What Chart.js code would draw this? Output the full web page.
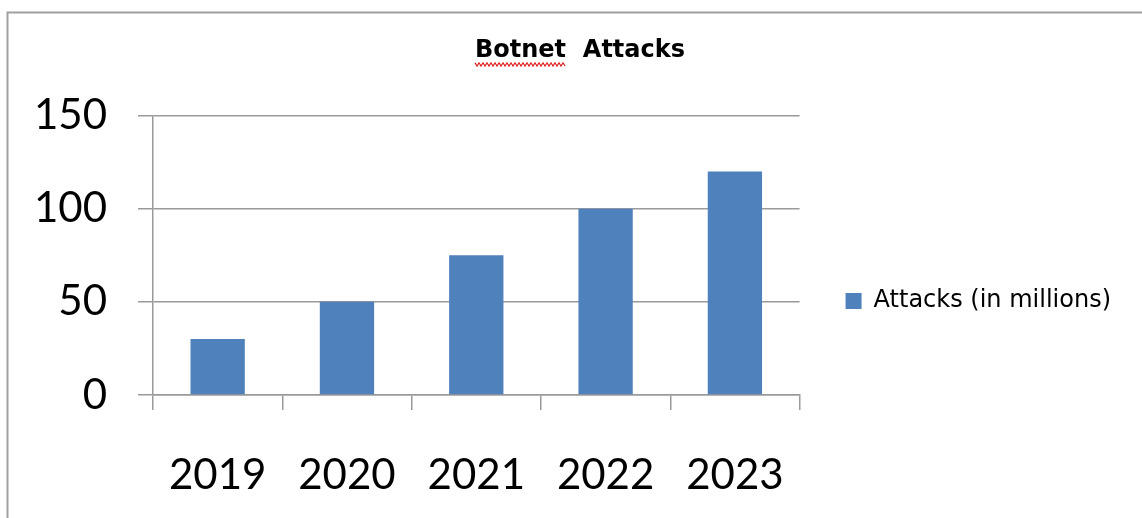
<!DOCTYPE html>
<html>
<head>
<meta charset="utf-8">
<script src="https://cdn.jsdelivr.net/npm/chart.js@4.4.0/dist/chart.umd.min.js"></script>
<style>
  html, body { margin: 0; padding: 0; background: #fff; }
</style>
</head>
<body>
<canvas id="chart" width="1142" height="518"></canvas>
<script>
// data
const years = ['2019', '2020', '2021', '2022', '2023'];
const attacks = [30, 50, 75, 100, 120];
const yTicks = [0, 50, 100, 150];
const seriesName = 'Attacks (in millions)';
const chartTitle = 'Botnet  Attacks';

const gray = '#9a9a9a';
const legendFont = { family: 'DejaVu Sans', size: 24 };
const legendPad = 46;
const legendBox = 16;

// work out right padding so the plot ends near x=800
const probe = document.createElement('canvas').getContext('2d');
probe.font = legendFont.size + 'px "' + legendFont.family + '"';
const legendTextW = probe.measureText(seriesName).width;
const padRight = Math.max(0, Math.round(1142 - 800 - (legendPad + legendBox + legendFont.size / 2 + legendTextW + 10)));

// outer frame (only top and left edge show) + spellcheck squiggle under "Botnet"
const framePlugin = {
  id: 'frame',
  afterLayout(chart) {
    // the title sits a bit right of the canvas centre in the original
    const tb = chart.titleBlock;
    const shift = 580 - (tb.left + tb.right) / 2;
    tb.left += shift;
    tb.right += shift;
  },
  beforeDraw(chart) {
    const ctx = chart.ctx;
    ctx.save();
    ctx.fillStyle = '#fff';
    ctx.fillRect(0, 0, chart.width, chart.height);
    ctx.strokeStyle = '#a0a0a0';
    ctx.lineWidth = 2;
    ctx.beginPath();
    ctx.moveTo(7.5, chart.height);
    ctx.lineTo(7.5, 12.5);
    ctx.lineTo(chart.width, 12.5);
    ctx.stroke();
    ctx.restore();
  },
  afterDraw(chart) {
    const tb = chart.titleBlock;
    const ctx = chart.ctx;
    const f = chart.options.plugins.title.font;
    ctx.save();
    ctx.font = 'bold ' + f.size + 'px "' + f.family + '"';
    const full = ctx.measureText(chartTitle).width;
    const word = ctx.measureText('Botnet').width;
    const x0 = (tb.left + tb.right) / 2 - full / 2;
    const yc = tb.top + tb.options.padding.top + f.size * 1.2 / 2 + 14;
    ctx.strokeStyle = '#e02020';
    ctx.lineWidth = 1.2;
    ctx.beginPath();
    let up = true;
    for (let x = x0; x <= x0 + word; x += 2) {
      const y = up ? yc - 1.6 : yc + 1.6;
      if (x === x0) ctx.moveTo(x, y); else ctx.lineTo(x, y);
      up = !up;
    }
    ctx.stroke();
    ctx.restore();
  }
};

new Chart(document.getElementById('chart'), {
  type: 'bar',
  data: {
    labels: years,
    datasets: [{
      label: seriesName,
      data: attacks,
      backgroundColor: '#4f81bd',
      borderWidth: 0,
      barPercentage: 0.42,
      categoryPercentage: 1.0
    }]
  },
  options: {
    responsive: false,
    animation: false,
    layout: { padding: { left: 0, right: padRight, top: 0, bottom: 0 } },
    plugins: {
      title: {
        display: true,
        text: chartTitle,
        color: '#000',
        font: { family: 'DejaVu Sans', size: 24, weight: 'bold' },
        padding: { top: 36, bottom: 50.7 }
      },
      legend: {
        position: 'right',
        fullSize: false,
        maxWidth: 400,
        title: {
          display: true,
          text: ' ',
          font: { size: 12, lineHeight: 1 },
          padding: { top: 79.5, bottom: 0 }
        },
        labels: {
          color: '#000',
          font: legendFont,
          boxWidth: legendBox,
          boxHeight: legendBox,
          padding: legendPad
        }
      },
      tooltip: { enabled: false }
    },
    scales: {
      x: {
        grid: {
          display: true,
          drawOnChartArea: false,
          drawTicks: true,
          tickLength: 15,
          color: gray,
          lineWidth: 1.5
        },
        border: { color: gray, width: 1.5 },
        ticks: {
          color: '#000',
          font: { family: 'Lato', size: 42 },
          padding: 40
        },
        afterFit(scale) { scale.height = 123; }
      },
      y: {
        min: 0,
        max: 150,
        afterBuildTicks(scale) { scale.ticks = yTicks.map(v => ({ value: v })); },
        grid: {
          color: gray,
          lineWidth: 1.5,
          drawTicks: true,
          tickLength: 15
        },
        border: { color: gray, width: 1.5 },
        ticks: {
          color: '#000',
          font: { family: 'Lato', size: 42 },
          padding: 31
        },
        afterFit(scale) { scale.width = 153; }
      }
    }
  },
  plugins: [framePlugin]
});
</script>
</body>
</html>
